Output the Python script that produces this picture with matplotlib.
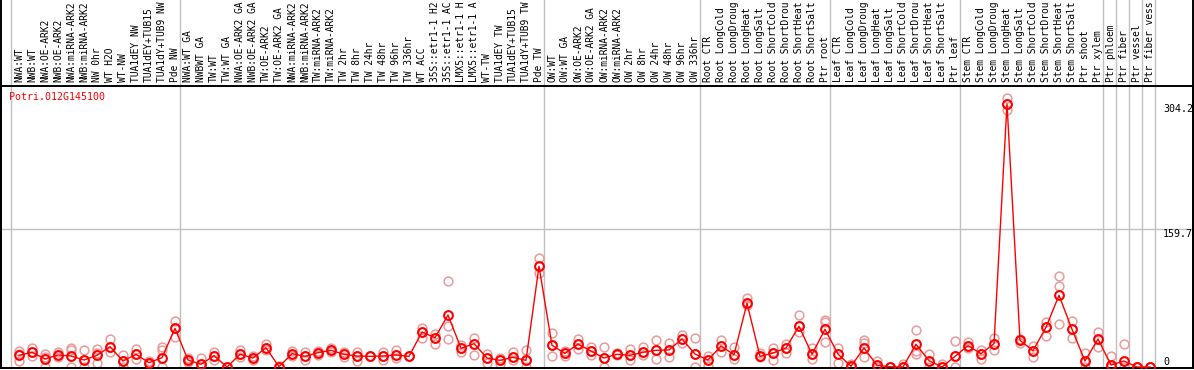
import matplotlib
matplotlib.use("Agg")
import matplotlib.pyplot as plt
import matplotlib.transforms as mtransforms

gene = "Potri.012G145100"

# column labels as they appear (truncated at the top edge) in the reference
labels = [
    "NWA:WT", "NWB:WT", "NWA:OE-ARK2", "NWB:OE-ARK2", "NWA:miRNA-ARK2", "NWB:miRNA-ARK2",
    "NW 0hr", "WT H2O", "WT-NW", "TUA1dEY NW", "TUA1dEY+TUB15", "TUA1dY+TUB9 NW", "Pde NW",
    "NWA:WT GA", "NWBWT GA", "TW:WT", "TW:WT GA", "NWA:OE-ARK2 GA", "NWB:OE-ARK2 GA",
    "TW:OE-ARK2", "TW:OE-ARK2 GA", "NWA:miRNA-ARK2", "NWB:miRNA-ARK2", "TW:miRNA-ARK2",
    "TW:miRNA-ARK2", "TW 2hr", "TW 8hr", "TW 24hr", "TW 48hr", "TW 96hr", "TW 336hr",
    "WT ACC", "35S::etr1-1 H2", "35S::etr1-1 AC", "LMX5::etr1-1 H", "LMX5::etr1-1 A",
    "WT-TW", "TUA1dEY TW", "TUA1dEY+TUB15", "TUA1dY+TUB9 TW", "Pde TW",
    "OW:WT", "OW:WT GA", "OW:OE-ARK2", "OW:OE-ARK2 GA", "OW:miRNA-ARK2", "OW:miRNA-ARK2",
    "OW 2hr", "OW 8hr", "OW 24hr", "OW 48hr", "OW 96hr", "OW 336hr",
    "Root CTR", "Root LongCold", "Root LongDroug", "Root LongHeat", "Root LongSalt",
    "Root ShortCold", "Root ShortDrou", "Root ShortHeat", "Root ShortSalt", "Ptr root",
    "Leaf CTR", "Leaf LongCold", "Leaf LongDroug", "Leaf LongHeat", "Leaf LongSalt",
    "Leaf ShortCold", "Leaf ShortDrou", "Leaf ShortHeat", "Leaf ShortSalt", "Ptr leaf",
    "Stem CTR", "Stem LongCold", "Stem LongDroug", "Stem LongHeat", "Stem LongSalt",
    "Stem ShortCold", "Stem ShortDrou", "Stem ShortHeat", "Stem ShortSalt",
    "Ptr shoot", "Ptr xylem", "Ptr phloem", "Ptr fiber", "Ptr vessel", "Ptr fiber vess",
]

means = [
    13.5, 17, 9.3, 13.9, 12.7, 8.1, 13.5, 23.5, 6.9, 14.7, 5, 10.8, 44.7,
    8.1, 3.1, 13.1, 0, 14.7, 10.4, 22.3, 0.3, 15.4, 12.3, 16.6, 19.3, 14.7, 12.7, 12.3,
    12.7, 13.9, 12.3, 40.5, 33.9, 60.1, 21.6, 27, 10.4, 7.7, 11.2, 7.7, 116.5,
    25.1, 15.8, 26.6, 18.5, 10.4, 14.7, 13.5, 17, 19.3, 19.7, 32.4, 15,
    8.1, 24.3, 14.2, 73.7, 12.3, 16.2, 22, 47.1, 14.7, 43.6,
    15, 0.8, 22, 2, 0.3, 0, 26.3, 7.3, 0, 12.3,
    24.7, 15.4, 27, 304.2, 30.9, 18.9, 45.9, 82.9, 43.6, 6.9, 32.4,
    2.3, 6.9, 0, 0,
]

replicates = [
    [18.9, 14.7, 6.9], [21.6, 17, 13.1], [15, 12, 0], [17.2, 13.9, 12], [21.6, 19.7, 0],
    [19.7, 8.1, 0], [20.8, 15.8, 4.3], [32.4, 23.5, 17], [13.9, 6.9, 0], [21.2, 14.7, 9.6],
    [6.9, 5, 3.1], [22.8, 19.7, 0], [53.2, 44.7, 35],
    [10, 8.1, 6], [10.8, 3.1, 0], [17.7, 13.1, 8.5], [0, 0, 0], [19.7, 14.7, 12],
    [12.5, 10.4, 8], [26.3, 22.3, 19.7], [1, 0, 0], [18.9, 15.4, 12.7], [17, 12.3, 7.7],
    [18.9, 16.6, 13.9], [21.6, 19.3, 17], [17.7, 14.7, 11.9], [17.3, 12.7, 7.3],
    [12.3, 12.3, 12.3], [17.3, 12.7, 8.1], [19.7, 13.9, 10], [12.3, 12.3, 12.3],
    [44.7, 40.5, 33.9], [37.8, 33.9, 26.3], [99.8, 47.4, 32], [25.4, 21.6, 17.7],
    [33.5, 27, 13.9], [15, 10.4, 4.3], [10, 7.7, 3.5], [17.7, 11.2, 8.1], [19.3, 7.7, 0],
    [125.7, 116.5, 108.4],
    [39, 25.1, 12.4], [18.5, 15.8, 13.1], [32, 26.6, 21.2], [23.1, 18.5, 13.5],
    [23.1, 10.4, 0], [15.8, 14.7, 13.5], [20.5, 13.5, 7.7], [23.5, 17, 13.9],
    [31.2, 19.3, 9.6], [27.8, 19.7, 11.2], [37.4, 32.4, 27.4], [33.5, 15, 0],
    [12.7, 8.1, 1.2], [31.2, 24.3, 17], [22.8, 14.2, 9.3], [79.5, 73.7, 71.4],
    [16.5, 12.4, 11.2], [22.3, 16.2, 7.7], [27, 22, 16.2], [60.1, 47.1, 40.8],
    [22.3, 14.7, 9.6], [54.4, 51.5, 28.9],
    [21.6, 15, 5], [3.5, 0.8, 0], [31.2, 27.4, 11.2], [7.3, 2, 0], [0.3, 0.3, 0.3],
    [3, 0, 0], [42.8, 18.5, 15], [15, 7.3, 0], [3.5, 0, 0], [30, 12.3, 0],
    [28.6, 24.7, 21.6], [19.7, 15.4, 9.6], [33.2, 27, 19.7], [311.1, 304.2, 297.2],
    [32.7, 30.9, 27.4], [24.3, 18.9, 11.2], [52.4, 45.9, 36.2], [105.2, 93.7, 49.7],
    [53.6, 43.6, 33.2], [15.8, 6.9, 0], [40.5, 32.4, 23.5],
    [13.1, 2.3, 0], [26.3, 6.9, 0], [0, 0, 0], [0, 0, 0],
]

# first column index of each group (separators drawn before them, plus end)
group_starts = [0, 13, 41, 53, 63, 73, 84, 85, 86, 87, 88]
axis_labels = [304.2, 159.7, 0]

MONO = "DejaVu Sans Mono"
FS = 7.2
FS_LAB = 6.9

W, H = 1194, 370
fig = plt.figure(figsize=(W / 100, H / 100), dpi=100)
ax_left, ax_right, ax_top, ax_bot = 1, 1193, 86, 368
ax = fig.add_axes([ax_left / W, (H - ax_bot) / H, (ax_right - ax_left) / W, (ax_bot - ax_top) / H])

col_w = 13.0
xmin = -18 / col_w
xmax = xmin + (ax_right - ax_left) / col_w
ax.set_xlim(xmin, xmax)
ppu = 263 / 304.2
ymin = -1 / ppu
ymax = ymin + (ax_bot - ax_top) / ppu
ax.set_ylim(ymin, ymax)

ax.set_xticks([])
ax.set_yticks([])
for s in ax.spines.values():
    s.set_color("black")
    s.set_linewidth(1.4)

top_frac = 1 + ax_top / (ax_bot - ax_top)
sep_off = 8 / col_w
for k in group_starts:
    ax.axvline(k - sep_off, ymin=0, ymax=top_frac, color="#c0c0c0", lw=1.0,
               clip_on=False, zorder=1)
for xb in (xmin, xmax):
    ax.axvline(xb, ymin=0, ymax=top_frac, color="black", lw=1.4, clip_on=False, zorder=5)

ax.axhline(axis_labels[1], color="#c0c0c0", lw=1.0, zorder=1)

xs = list(range(len(means)))
rx, ry = [], []
for i, reps in enumerate(replicates):
    for r in reps:
        rx.append(i)
        ry.append(r)
ax.plot(rx, ry, linestyle="none", marker="o", markersize=6.3, markerfacecolor="none",
        markeredgecolor="#ec9a9a", markeredgewidth=1.1, zorder=2)
ax.plot(xs, means, color="red", lw=1.0, zorder=3)
ax.plot(xs, means, linestyle="none", marker="o", markersize=6.3, markerfacecolor="none",
        markeredgecolor="red", markeredgewidth=1.5, zorder=4)

lab_trans = mtransforms.blended_transform_factory(ax.transData, ax.transAxes)
lab_y = 1 + 4 / (ax_bot - ax_top)
for i, lab in enumerate(labels):
    ax.text(i + 0.02, lab_y, lab, transform=lab_trans, rotation=90, ha="center", va="bottom",
            fontsize=FS_LAB, family=MONO, color="black", clip_on=False)

ax.text((9 - ax_left) / (ax_right - ax_left), 1 - (97 - ax_top) / (ax_bot - ax_top), gene,
        transform=ax.transAxes, ha="left", va="center", fontsize=FS, family=MONO, color="red")

val_trans = mtransforms.blended_transform_factory(ax.transAxes, ax.transData)
vx = (1163 - ax_left) / (ax_right - ax_left)
for v in axis_labels:
    txt = "0" if v == 0 else f"{v:.1f}"
    ax.text(vx, v, txt, transform=val_trans, ha="left", va="bottom" if v == 0 else "top",
            fontsize=FS, family=MONO, color="black")

fig.savefig("out.png", dpi=100)
